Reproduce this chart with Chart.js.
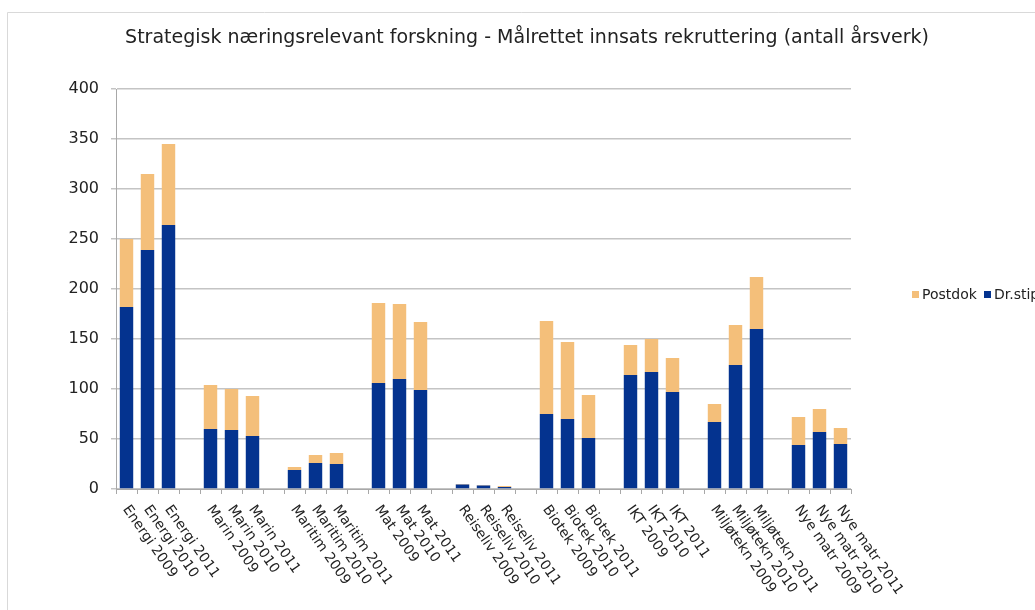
<!DOCTYPE html>
<html>
<head>
<meta charset="utf-8">
<script src="https://cdn.jsdelivr.net/npm/chart.js@4/dist/chart.umd.min.js"></script>
<style>
  html, body { margin: 0; padding: 0; background: #ffffff; }
  #wrap { width: 1035px; height: 610px; overflow: hidden; }
</style>
</head>
<body>
<div id="wrap"><canvas id="c" width="1035" height="610"></canvas></div>
<script>
const titleText = 'Strategisk næringsrelevant forskning - Målrettet innsats rekruttering (antall årsverk)';
const categories = [
  'Energi 2009','Energi 2010','Energi 2011','',
  'Marin 2009','Marin 2010','Marin 2011','',
  'Maritim 2009','Maritim 2010','Maritim 2011','',
  'Mat 2009','Mat 2010','Mat 2011','',
  'Reiseliv 2009','Reiseliv 2010','Reiseliv 2011','',
  'Biotek 2009','Biotek 2010','Biotek 2011','',
  'IKT 2009','IKT 2010','IKT 2011','',
  'Miljøtekn 2009','Miljøtekn 2010','Miljøtekn 2011','',
  'Nye matr 2009','Nye matr 2010','Nye matr 2011'
];
const drStip = [182,239,264,null, 60,59,53,null, 19,26,25,null, 106,110,99,null, 4.5,3.5,2,null, 75,70,51,null, 114,117,97,null, 67,124,160,null, 44,57,45];
const postdok = [68,76,81,null, 44,41,40,null, 3,8,11,null, 80,75,68,null, 0.5,0.5,1,null, 93,77,43,null, 30,33,34,null, 18,40,52,null, 28,23,16];
const yTicks = [0,50,100,150,200,250,300,350,400];
const seriesNames = ['Dr.stipendiat', 'Postdok'];
const colBlue = '#04338f';
const colOrange = '#f4bf7a';

const FONT = '"DejaVu Sans", Verdana, sans-serif';

const decor = {
  id: 'decor',
  beforeDraw(chart) {
    const ctx = chart.ctx;
    ctx.save();
    ctx.fillStyle = '#ffffff';
    ctx.fillRect(0, 0, chart.width, chart.height);
    ctx.strokeStyle = '#d9d9d9';
    ctx.lineWidth = 1;
    ctx.beginPath();
    ctx.moveTo(7.5, chart.height);
    ctx.lineTo(7.5, 12.5);
    ctx.lineTo(chart.width, 12.5);
    ctx.stroke();
    ctx.restore();
  },
  afterDraw(chart) {
    const ctx = chart.ctx;
    const xs = chart.scales.x;
    ctx.save();
    // title
    ctx.fillStyle = '#222222';
    ctx.font = '19px ' + FONT;
    ctx.textAlign = 'center';
    ctx.textBaseline = 'middle';
    ctx.fillText(titleText, 527, 38);
    // rotated x labels
    ctx.font = '14px ' + FONT;
    ctx.textAlign = 'left';
    ctx.textBaseline = 'middle';
    ctx.fillStyle = '#222222';
    const axisY = chart.scales.y.getPixelForValue(0);
    categories.forEach((lab, i) => {
      if (!lab) return;
      const x = xs.getPixelForValue(i);
      ctx.save();
      ctx.translate(x - 1, axisY + 18);
      ctx.rotate(55 * Math.PI / 180);
      ctx.fillText(lab, 0, 0);
      ctx.restore();
    });
    // legend
    const items = [
      { name: seriesNames[1], color: colOrange, x: 912 },
      { name: seriesNames[0], color: colBlue, x: 984 }
    ];
    ctx.font = '14px ' + FONT;
    ctx.textBaseline = 'middle';
    items.forEach(it => {
      ctx.fillStyle = it.color;
      ctx.fillRect(it.x, 291, 7, 7);
      ctx.fillStyle = '#222222';
      ctx.fillText(it.name, it.x + 10, 295);
    });
    ctx.restore();
  }
};

new Chart(document.getElementById('c'), {
  type: 'bar',
  data: {
    labels: categories,
    datasets: [
      { label: seriesNames[0], data: drStip, backgroundColor: colBlue, barPercentage: 0.64, categoryPercentage: 1.0 },
      { label: seriesNames[1], data: postdok, backgroundColor: colOrange, barPercentage: 0.64, categoryPercentage: 1.0 }
    ]
  },
  options: {
    responsive: false,
    animation: false,
    devicePixelRatio: 1,
    layout: { padding: { top: 89, right: 1035 - 851, left: 0, bottom: 0 } },
    plugins: { legend: { display: false }, title: { display: false }, tooltip: { enabled: false } },
    scales: {
      x: {
        stacked: true,
        grid: { offset: true, drawOnChartArea: false, tickLength: 5, color: '#a8a8a8', lineWidth: 1 },
        border: { color: '#a8a8a8', width: 1 },
        ticks: { display: false },
        afterFit: s => { s.height = 610 - 489; }
      },
      y: {
        stacked: true,
        min: 0, max: 400,
        afterBuildTicks: s => { s.ticks = yTicks.map(v => ({ value: v })); },
        ticks: { font: { family: FONT, size: 16 }, color: '#222222', padding: 12 },
        grid: { color: '#c4c4c4', lineWidth: 1.5, tickLength: 5 },
        border: { color: '#a8a8a8', width: 1 },
        afterFit: s => { s.width = 116; }
      }
    }
  },
  plugins: [decor]
});
</script>
</body>
</html>
